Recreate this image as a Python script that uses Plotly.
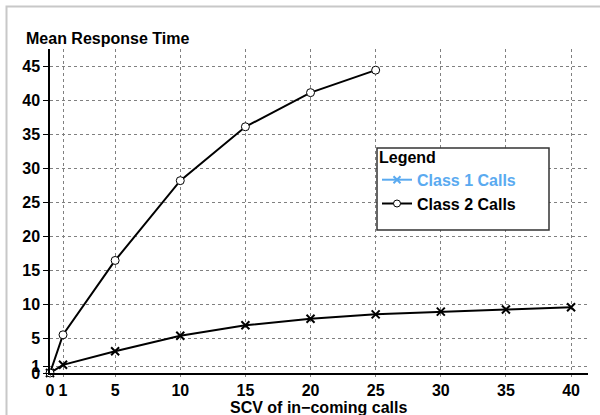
import plotly.graph_objects as go

scv_class1 = [0, 1, 5, 10, 15, 20, 25, 30, 35, 40]
class1_rt = [0, 1.2, 3.2, 5.45, 7.0, 7.95, 8.6, 9.0, 9.3, 9.65]
scv_class2 = [0, 1, 5, 10, 15, 20, 25]
class2_rt = [0, 5.6, 16.5, 28.2, 36.1, 41.1, 44.4]
x_ticks = [0, 1, 5, 10, 15, 20, 25, 30, 35, 40]
y_ticks = [0, 1, 5, 10, 15, 20, 25, 30, 35, 40, 45]

W, H = 600, 415
L, R, T, B = 50, 12, 49, 42
pw, ph = W - L - R, H - T - B

def px(x):
    return (x - L) / pw

def py(y):
    return (H - B - y) / ph

blue = "#5aaaf0"
font = "Liberation Sans, Arial, Helvetica, sans-serif"
FS = 16

fig = go.Figure()
fig.add_trace(go.Scatter(
    x=scv_class1, y=class1_rt, mode="lines+markers", showlegend=False,
    line=dict(color="black", width=2),
    marker=dict(symbol="x-thin", size=8, line=dict(color="black", width=2)),
    cliponaxis=False,
))
fig.add_trace(go.Scatter(
    x=scv_class2, y=class2_rt, mode="lines+markers", showlegend=False,
    line=dict(color="black", width=2),
    marker=dict(symbol="circle", size=8, color="white", line=dict(color="black", width=1)),
    cliponaxis=False,
))
# legend entries
fig.add_trace(go.Scatter(
    x=[None], y=[None], mode="lines+markers",
    name=f'<span style="color:{blue}">Class 1 Calls</span>',
    line=dict(color=blue, width=2),
    marker=dict(symbol="x-thin", size=7, line=dict(color=blue, width=2)),
))
fig.add_trace(go.Scatter(
    x=[None], y=[None], mode="lines+markers", name="Class 2 Calls",
    line=dict(color="black", width=2),
    marker=dict(symbol="circle", size=7, color="white", line=dict(color="black", width=1)),
))

grid = dict(showgrid=True, gridcolor="#808080", gridwidth=1, griddash="dot")
fig.update_xaxes(
    range=[0, 41.3], tickvals=x_ticks, ticktext=[str(v) for v in x_ticks],
    showline=True, linecolor="black", linewidth=1.5, zeroline=False,
    ticks="outside", ticklen=2, tickcolor="#808080", automargin=False,
    tickfont=dict(family=font, size=FS, color="black", weight="bold"),
    **grid,
)
fig.update_yaxes(
    range=[0, 47.5], tickvals=y_ticks, ticktext=[str(v) for v in y_ticks],
    showline=True, linecolor="black", linewidth=1.5, zeroline=False,
    ticks="outside", ticklen=5, tickcolor="black", automargin=False,
    tickfont=dict(family=font, size=FS, color="black", weight="bold"),
    **grid,
)

fig.add_annotation(
    text="<b>Mean Response Time</b>", xref="paper", yref="paper",
    x=px(24), y=py(38), xanchor="left", yanchor="middle", showarrow=False,
    font=dict(family=font, size=FS, color="black"),
)
fig.add_annotation(
    text="<b>SCV of in\u2212coming calls</b>", xref="paper", yref="paper",
    x=px(318), y=py(407), xanchor="center", yanchor="middle", showarrow=False,
    font=dict(family=font, size=FS, color="black"),
)

# legend box
fig.add_shape(type="rect", xref="paper", yref="paper",
              x0=px(377), x1=px(549), y0=py(148), y1=py(230),
              line=dict(color="#333333", width=1.5), fillcolor="white", layer="above")
# outer frame
fig.add_shape(type="rect", xref="paper", yref="paper",
              x0=px(6.5), x1=px(640), y0=py(6.5), y1=py(460),
              line=dict(color="#c8c8c8", width=2), fillcolor="rgba(0,0,0,0)", layer="below")

fig.update_layout(
    width=W, height=H, margin=dict(l=L, r=R, t=T, b=B, autoexpand=False),
    plot_bgcolor="white", paper_bgcolor="white",
    legend=dict(
        x=px(377), y=py(142), xanchor="left", yanchor="top",
        bgcolor="rgba(0,0,0,0)", borderwidth=0,
        title=dict(text="Legend", font=dict(family=font, size=FS, color="black", weight="bold")),
        font=dict(family=font, size=FS, color="black", weight="bold"),
        itemwidth=30, tracegroupgap=0,
    ),
)

fig.write_html("out.html", config={"displayModeBar": False},
               post_script="document.body.style.margin='0';document.body.style.overflow='hidden';")
